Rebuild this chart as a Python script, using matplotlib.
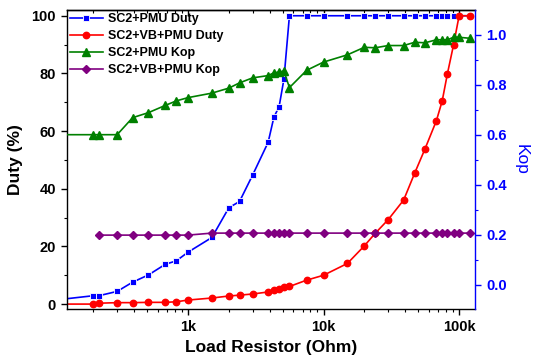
import numpy as np
import matplotlib.pyplot as plt
from matplotlib.ticker import FixedLocator, FixedFormatter, LogLocator, MultipleLocator

plt.rcParams["font.family"] = ["Liberation Sans", "DejaVu Sans"]
plt.rcParams["font.weight"] = "bold"

# =========================
# Data
# =========================

R_OHM = [100, 200, 220, 300, 390, 510, 680, 820, 1000, 1500, 2000, 2400,
         3000, 3900, 4300, 4700, 5100, 5600, 7500, 10000, 15000, 20000,
         24000, 30000, 39000, 47000, 56000, 68000, 75000, 82000, 91000,
         100000, 120000]

SC2_PMU_DUTY = [1.3, 2.9, 2.9, 4.4, 7.6, 10.1, 13.8, 15.0, 18.0, 23.1,
                33.4, 35.6, 44.8, 56.1, 64.8, 68.5, 78.0, 100, 100, 100,
                100, 100, 100, 100, 100, 100, 100, 100, 100, 100, 100,
                100, 100]

SC2_VB_PMU_DUTY = [0.0, 0.0, 0.3, 0.5, 0.5, 0.6, 0.6, 0.8, 1.4, 2.1, 2.8,
                   3.1, 3.5, 4.2, 4.9, 5.4, 5.9, 6.1, 8.3, 10.0, 14.1, 20.2,
                   24.5, 29.3, 36.1, 45.4, 53.8, 63.6, 70.4, 79.9, 89.9,
                   100, 100]

SC2_PMU_KOP = [0.60, 0.60, 0.60, 0.60, 0.668, 0.688, 0.717, 0.735, 0.748,
               0.766, 0.786, 0.807, 0.827, 0.836, 0.847, 0.850, 0.854,
               0.788, 0.857, 0.890, 0.919, 0.949, 0.947, 0.956, 0.956,
               0.969, 0.967, 0.979, 0.979, 0.979, 0.989, 0.989, 0.985]

SC2_VB_PMU_KOP = [np.nan, np.nan, 0.199, 0.199, 0.199, 0.199, 0.199, 0.199,
                  0.199, 0.207, 0.207, 0.207, 0.207, 0.207, 0.207, 0.207,
                  0.207, 0.207, 0.207, 0.207, 0.207, 0.207, 0.207, 0.207,
                  0.207, 0.207, 0.207, 0.207, 0.207, 0.207, 0.207, 0.207,
                  0.207]

X_TICKS = [1000, 10000, 100000]
X_TICK_LABELS = ["1k", "10k", "100k"]


def main():
    fig = plt.figure(figsize=(5.34, 3.63), dpi=100)
    ax = fig.add_axes([0.1255, 0.1488, 0.764, 0.8237])
    ax2 = ax.twinx()

    # Duty curves (left axis)
    l1, = ax.plot(R_OHM, SC2_PMU_DUTY, color="#0000FF", lw=1.2,
                  marker="s", ms=5, mec="white", mew=0.6,
                  label="SC2+PMU Duty")
    l2, = ax.plot(R_OHM, SC2_VB_PMU_DUTY, color="#FF0000", lw=1.2,
                  marker="o", ms=4.6, label="SC2+VB+PMU Duty")

    # Kop curves (right axis)
    l3, = ax2.plot(R_OHM, SC2_PMU_KOP, color="#008000", lw=1.2,
                   marker="^", ms=5.2, label="SC2+PMU Kop")
    l4, = ax2.plot(R_OHM, SC2_VB_PMU_KOP, color="#800080", lw=1.2,
                   marker="D", ms=4, label="SC2+VB+PMU Kop")

    ax.set_xscale("log")
    ax.set_xlim(128, 131000)
    ax.set_ylim(-1.7, 102)
    ax2.set_ylim(-0.096, 1.098)

    ax.xaxis.set_major_locator(FixedLocator(X_TICKS))
    ax.xaxis.set_major_formatter(FixedFormatter(X_TICK_LABELS))
    ax.xaxis.set_minor_locator(LogLocator(base=10, subs=np.arange(2, 10)))
    ax.xaxis.set_minor_formatter(FixedFormatter([]))

    ax.yaxis.set_major_locator(MultipleLocator(20))
    ax.yaxis.set_minor_locator(MultipleLocator(10))
    ax2.yaxis.set_major_locator(MultipleLocator(0.2))
    ax2.yaxis.set_minor_locator(MultipleLocator(0.1))
    ax2.set_yticks([0.0, 0.2, 0.4, 0.6, 0.8, 1.0])
    ax2.set_yticklabels(["0.0", "0.2", "0.4", "0.6", "0.8", "1.0"])

    ax.tick_params(which="major", direction="out", length=4.5, width=1,
                   labelsize=10.5)
    ax.tick_params(which="minor", direction="out", length=2.5, width=0.8)
    ax2.tick_params(axis="y", which="major", direction="out", length=4.5,
                    width=1, labelsize=10.5, colors="#0000FF")
    ax2.tick_params(axis="y", which="minor", direction="out", length=2.5,
                    width=0.8, colors="#0000FF")

    # mirrored ticks on the top spine, pointing inwards
    top = ax.secondary_xaxis("top")
    top.xaxis.set_major_locator(FixedLocator(X_TICKS))
    top.xaxis.set_minor_locator(LogLocator(base=10, subs=np.arange(2, 10)))
    top.tick_params(which="major", direction="in", length=4.5, width=1,
                    labeltop=False)
    top.tick_params(which="minor", direction="in", length=2.5, width=0.8)
    top.spines["top"].set_linewidth(1)

    for side in ["left", "bottom", "top"]:
        ax.spines[side].set_linewidth(1)
    ax.spines["right"].set_visible(False)
    ax2.spines["right"].set_color("#0000FF")
    ax2.spines["right"].set_linewidth(1)
    for side in ["left", "top", "bottom"]:
        ax2.spines[side].set_visible(False)

    ax.set_xlabel("Load Resistor (Ohm)", fontsize=12.5, fontweight="bold",
                  labelpad=4)
    ax.set_ylabel("Duty (%)", fontsize=12.5, fontweight="bold", labelpad=6)
    ax2.set_ylabel("Kop", fontsize=12.5, color="#0000FF", rotation=270,
                   labelpad=16)

    ax2.legend(handles=[l1, l2, l3, l4], loc="upper left",
               bbox_to_anchor=(0.0, 1.0), frameon=False, fontsize=9,
               borderaxespad=0.0, borderpad=0.25, handlelength=2.6,
               handletextpad=0.4, labelspacing=0.4)

    fig.savefig("out.png", dpi=100)
    plt.close(fig)


if __name__ == "__main__":
    main()
